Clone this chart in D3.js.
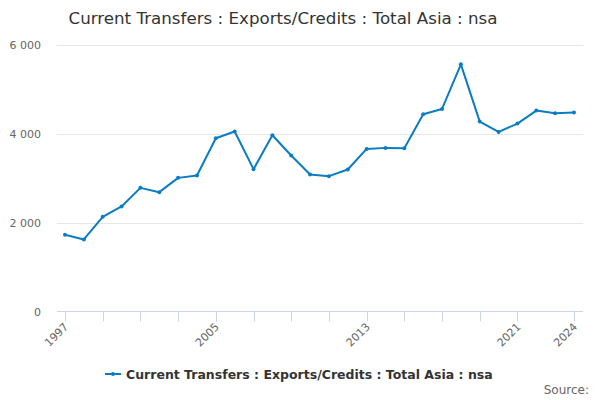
<!DOCTYPE html>
<html><head><meta charset="utf-8">
<script src="https://cdn.jsdelivr.net/npm/d3@7"></script>
<style>body{margin:0;background:#fff}svg{display:block;font-family:"DejaVu Sans",sans-serif}</style>
</head><body>
<svg id="c" width="600" height="400"></svg>
<script>
const years = [1997,1998,1999,2000,2001,2002,2003,2004,2005,2006,2007,2008,2009,2010,2011,2012,2013,2014,2015,2016,2017,2018,2019,2020,2021,2022,2023,2024];
const values = [1729,1625,2134,2368,2787,2690,3012,3066,3905,4056,3208,3973,3516,3088,3050,3200,3665,3688,3680,4446,4566,5571,4281,4048,4236,4529,4468,4484];
const yTicks = [0,2000,4000,6000];
const xTicks = [1997,1999,2001,2003,2005,2007,2009,2011,2013,2015,2017,2019,2021,2024];
const xLabels = [1997,2005,2013,2021,2024];
const title = "Current Transfers : Exports/Credits : Total Asia : nsa";
const seriesName = "Current Transfers : Exports/Credits : Total Asia : nsa";
const sourceText = "Source:";

const svg = d3.select("#c");
const color = "#0a7dc2";
const plotL = 57, plotR = 583;
const x = d3.scaleLinear().domain([1997,2024]).range([65,574]);
const y = d3.scaleLinear().domain([0,6000]).range([311.5,45.3]);
const fmt = v => d3.format(",")(v).replace(/,/g," ");

svg.append("text").attr("x",283).attr("y",24).attr("text-anchor","middle")
  .attr("font-size",16.7).attr("fill","#333").text(title);

// grid
svg.append("g").selectAll("line").data(yTicks.filter(d=>d>0)).join("line")
  .attr("x1",plotL).attr("x2",plotR).attr("y1",d=>Math.round(y(d))+0.5).attr("y2",d=>Math.round(y(d))+0.5)
  .attr("stroke","#e6e6e6");
// y labels
svg.append("g").selectAll("text").data(yTicks).join("text")
  .attr("x",41).attr("y",d=>y(d)+4).attr("text-anchor","end")
  .attr("font-size",11).attr("fill","#666").text(fmt);

// x axis
const xa = svg.append("g").attr("transform","translate(0,311.5)");
xa.append("line").attr("x1",plotL).attr("x2",plotR).attr("stroke","#ccd6eb");
xa.selectAll(".t").data(xTicks).join("line").attr("class","t")
  .attr("x1",d=>Math.round(x(d))+0.5).attr("x2",d=>Math.round(x(d))+0.5).attr("y1",0).attr("y2",10)
  .attr("stroke","#ccd6eb");
xa.selectAll("text").data(xLabels).join("text")
  .attr("transform",d=>`translate(${x(d)+4},${16}) rotate(-45)`)
  .attr("text-anchor","end").attr("font-size",11).attr("fill","#666").text(d=>d);

// line
const line = d3.line().x((d,i)=>x(years[i])).y(d=>y(d));
svg.append("path").datum(values).attr("d",line).attr("fill","none")
  .attr("stroke",color).attr("stroke-width",2).attr("stroke-linejoin","round");
svg.append("g").selectAll("circle").data(values).join("circle")
  .attr("cx",(d,i)=>x(years[i])).attr("cy",d=>y(d)).attr("r",2).attr("fill",color);

// legend
const lg = svg.append("g");
lg.append("line").attr("x1",105).attr("x2",121).attr("y1",374).attr("y2",374).attr("stroke",color).attr("stroke-width",2);
lg.append("circle").attr("cx",113).attr("cy",374).attr("r",2).attr("fill",color);
lg.append("text").attr("x",126).attr("y",378.5).attr("font-size",12.5).attr("font-weight","bold").attr("fill","#333").text(seriesName);

svg.append("text").attr("x",589).attr("y",394).attr("text-anchor","end")
  .attr("font-size",12).attr("fill","#666").text(sourceText);
</script>
</body></html>
